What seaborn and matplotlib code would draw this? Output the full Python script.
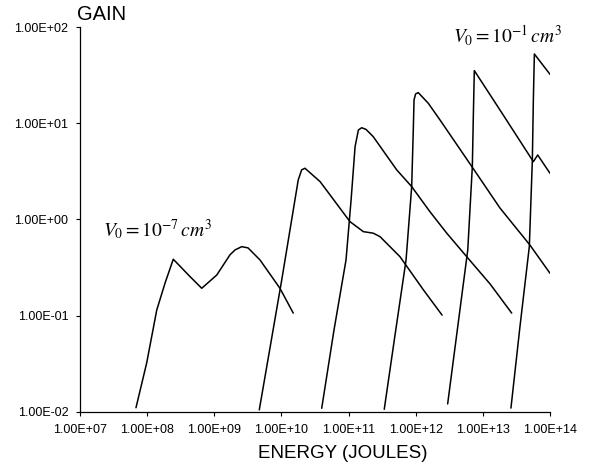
import matplotlib
matplotlib.use("Agg")
import matplotlib.pyplot as plt
import seaborn as sns
import pandas as pd
from matplotlib.ticker import FuncFormatter, NullLocator

# ---- data (energy in joules, gain) ----
e1 = [6.82e7, 9.84e7, 1.39e8, 1.85e8, 2.45e8, 4.35e8, 6.5e8, 1.09e9, 1.71e9, 2.04e9, 2.56e9, 3.18e9, 4.8e9, 9.5e9, 1.5e10]
g1 = [0.0110, 0.0321, 0.114, 0.218, 0.385, 0.254, 0.192, 0.264, 0.427, 0.481, 0.520, 0.505, 0.378, 0.192, 0.106]

e2 = [4.68e9, 1.01e10, 1.78e10, 2.0e10, 2.24e10, 3.76e10, 5.28e10, 1.05e11, 1.66e11, 2.33e11, 2.94e11, 5.83e11, 1.30e12, 2.47e12]
g2 = [0.01045, 0.234, 2.57, 3.27, 3.40, 2.47, 1.80, 0.946, 0.745, 0.718, 0.661, 0.409, 0.185, 0.101]

e3 = [3.98e10, 6.07e10, 9.16e10, 1.09e11, 1.25e11, 1.40e11, 1.57e11, 1.82e11, 2.33e11, 5.21e11, 8.71e11, 1.63e12, 2.9e12, 5.75e12, 1.28e13, 2.69e13]
g3 = [0.01086, 0.0708, 0.378, 1.59, 5.70, 8.49, 8.97, 8.61, 7.24, 3.27, 2.19, 1.20, 0.718, 0.409, 0.213, 0.106]

e4 = [3.4e11, 4.92e11, 7.18e11, 8.71e11, 9.2e11, 9.44e11, 9.94e11, 1.09e12, 1.54e12, 2.3e12, 6.97e12, 1.8e13, 5.01e13, 1.0e14]
g4 = [0.0106, 0.0628, 0.378, 2.19, 8.49, 17.4, 20.1, 20.8, 16.1, 10.8, 3.48, 1.31, 0.542, 0.275]

e5 = [2.99e12, 5.96e12, 6.97e12, 7.21e12, 7.46e12, 1.8e13, 5.65e13, 6.56e13, 1.0e14]
g5 = [0.01205, 0.481, 3.53, 11.7, 35.2, 13.7, 3.98, 4.67, 3.01]

e6 = [2.62e13, 3.57e13, 4.92e13, 5.46e13, 5.65e13, 5.85e13, 1.0e14]
g6 = [0.0109, 0.0767, 0.520, 4.14, 17.4, 52.4, 32.2]

energies = [e1, e2, e3, e4, e5, e6]
gains = [g1, g2, g3, g4, g5, g6]

x_ticks = [1e7, 1e8, 1e9, 1e10, 1e11, 1e12, 1e13, 1e14]
y_ticks = [1e-2, 1e-1, 1e0, 1e1, 1e2]

label_low = r"$V_0 = 10^{-7}\,cm^3$"
label_high = r"$V_0 = 10^{-1}\,cm^3$"

# ---- style ----
sns.set_theme(style="ticks")
plt.rcParams["font.family"] = ["Liberation Sans", "DejaVu Sans"]
plt.rcParams["mathtext.fontset"] = "stix"

fig = plt.figure(figsize=(5.89, 4.68), dpi=100)
ax = fig.add_axes([80 / 589, 1 - 411.7 / 468, 470 / 589, 384.7 / 468])

for e, g in zip(energies, gains):
    df = pd.DataFrame({"energy": e, "gain": g})
    sns.lineplot(data=df, x="energy", y="gain", ax=ax, color="black",
                 linewidth=1.1, sort=False, estimator=None)

ax.set_xscale("log")
ax.set_yscale("log")
ax.set_xlim(1e7, 1e14)
ax.set_ylim(1e-2, 1e2)
ax.set_xticks(x_ticks)
ax.set_yticks(y_ticks)
ax.xaxis.set_minor_locator(NullLocator())
ax.yaxis.set_minor_locator(NullLocator())
fmt = FuncFormatter(lambda v, p: f"{v:.2E}")
ax.xaxis.set_major_formatter(fmt)
ax.yaxis.set_major_formatter(fmt)
ax.tick_params(axis="both", which="major", length=3, width=0.8, color="black",
               labelsize=9, labelcolor="black", direction="out")
ax.tick_params(axis="x", pad=6)
ax.tick_params(axis="y", pad=5.5)
ax.set_xlabel("")
ax.set_ylabel("")
sns.despine(ax=ax)
for s in ["left", "bottom"]:
    ax.spines[s].set_color("black")
    ax.spines[s].set_linewidth(0.9)
ax.set_facecolor("white")
ax.grid(False)

ax.text(0.0496, 0.455, label_low, transform=ax.transAxes, fontsize=14,
        ha="left", va="baseline", color="black")
ax.text(0.794, 0.958, label_high, transform=ax.transAxes, fontsize=14,
        ha="left", va="baseline", color="black")

fig.text(77 / 589, 1 - 19.5 / 468, "GAIN", fontsize=14.5, ha="left", va="baseline", color="black")
fig.text(343 / 589, 1 - 458 / 468, "ENERGY (JOULES)", fontsize=13.5, ha="center",
         va="baseline", color="black")

fig.savefig("out.png", dpi=100, facecolor="white")
